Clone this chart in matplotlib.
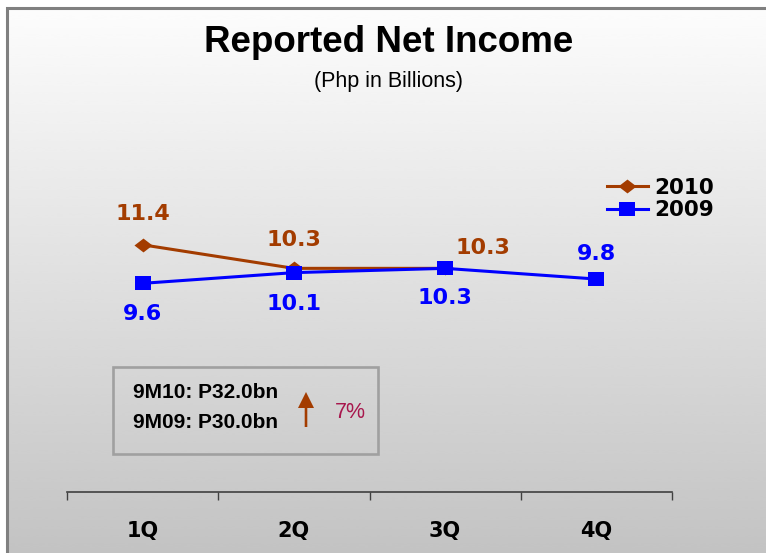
import numpy as np
import matplotlib
matplotlib.use('Agg')
import matplotlib.pyplot as plt
from matplotlib.path import Path
from matplotlib.patches import Rectangle
from matplotlib import font_manager

# chart data
quarters = ['1Q', '2Q', '3Q', '4Q']
income_2010 = [11.4, 10.3, 10.3]
income_2009 = [9.6, 10.1, 10.3, 9.8]
series_names = ['2010', '2009']
summary_lines = ['9M10: P32.0bn', '9M09: P30.0bn']
growth_label = '7%'

# label offsets (pixels) from each point
off_2010 = [(0, 31), (0, 28), (38, 20)]
off_2009 = [(0, -31), (0, -31), (0, -30), (0, 25)]

BROWN = '#A33C00'
BLUE = '#0000FF'
W, H = 766, 553

names = {f.name for f in font_manager.fontManager.ttflist}
narrow = 'Liberation Sans Narrow' in names

fig = plt.figure(figsize=(W / 100, H / 100), dpi=100)

# grey gradient panel with a frame on top and left
bg = fig.add_axes([0, 0, 1, 1], zorder=-10)
grad = np.linspace(0.99, 0.765, 256)[:, None]
bg.imshow(grad, cmap='gray', vmin=0, vmax=1, extent=(7, W, H, 8),
          aspect='auto', interpolation='bicubic')
bg.plot([6.5, 6.5, W], [H, 7.5, 7.5], color='#808080', lw=2.2,
        solid_joinstyle='miter')
bg.set_xlim(0, W)
bg.set_ylim(H, 0)
bg.axis('off')

# title
fig.text(389 / W, 1 - 52 / H, 'Reported Net Income', ha='center', va='baseline',
         fontsize=26.5, fontweight='bold', family='Liberation Sans')
if narrow:
    fig.text(388 / W, 1 - 87 / H, '(Php in Billions)', ha='center', va='baseline',
             fontsize=18.5, family='Liberation Sans Narrow')
else:
    fig.text(388 / W, 1 - 87 / H, '(Php in Billions)', ha='center', va='baseline',
             fontsize=15.5, family='Liberation Sans')

# main plot
ax = fig.add_axes([67 / W, 1 - 492 / H, (672 - 67) / W, (492 - 150) / H])
ax.patch.set_alpha(0)

sq = Path([(-1.3, -1), (1.3, -1), (1.3, 1), (-1.3, 1), (-1.3, -1)],
          [Path.MOVETO, Path.LINETO, Path.LINETO, Path.LINETO, Path.CLOSEPOLY])
dia = Path([(0, 1), (1.3, 0), (0, -1), (-1.3, 0), (0, 1)],
           [Path.MOVETO, Path.LINETO, Path.LINETO, Path.LINETO, Path.CLOSEPOLY])

x10 = np.arange(len(income_2010))
x09 = np.arange(len(income_2009))
l10, = ax.plot(x10, income_2010, color=BROWN, lw=2.2, marker=dia, ms=13,
               mew=0, label=series_names[0], zorder=3)
l09, = ax.plot(x09, income_2009, color=BLUE, lw=2.2, marker=sq, ms=12.2,
               mew=0, label=series_names[1], zorder=4)

for xi, v, (dx, dy) in zip(x10, income_2010, off_2010):
    ax.annotate(f'{v:.1f}', (xi, v), xytext=(dx, dy), textcoords='offset pixels',
                ha='center', va='center', color=BROWN, fontsize=16,
                fontweight='bold')
for xi, v, (dx, dy) in zip(x09, income_2009, off_2009):
    ax.annotate(f'{v:.1f}', (xi, v), xytext=(dx, dy), textcoords='offset pixels',
                ha='center', va='center', color=BLUE, fontsize=16,
                fontweight='bold')

ax.set_xlim(-0.5, len(quarters) - 0.5)
ax.set_ylim(-0.15, 15.83)
ax.set_xticks(np.arange(len(quarters) + 1) - 0.5)
ax.set_xticklabels([])
ax.set_xticks(np.arange(len(quarters)), minor=True)
ax.set_xticklabels(quarters, minor=True, fontsize=15, fontweight='bold')
ax.tick_params(axis='x', which='major', length=5.8, width=1, color='#404040',
               direction='out')
ax.tick_params(axis='x', which='minor', length=0, pad=21)
ax.set_yticks([])
for s in ['top', 'right', 'left']:
    ax.spines[s].set_visible(False)
ax.spines['bottom'].set_color('#404040')
ax.spines['bottom'].set_linewidth(1.2)

ax.legend(handles=[l10, l09], loc='center left',
          bbox_to_anchor=(607 / W, 1 - 199 / H), bbox_transform=fig.transFigure,
          frameon=False, borderpad=0, borderaxespad=0, handlelength=1.9,
          handletextpad=0.3, labelspacing=0.12,
          prop=dict(weight='bold', size=15.5))

# summary box
bg.add_patch(Rectangle((113, 367), 265, 87, fill=False, ec='#a0a0a0', lw=1.9))
for i, t in enumerate(summary_lines):
    bg.text(133, 398 + 30 * i, t, ha='left', va='baseline', fontsize=15,
            fontweight='bold', family='Liberation Sans')
bg.arrow(306, 427, 0, -35, width=2.6, head_width=16, head_length=16,
         length_includes_head=True, color=BROWN, lw=0)
bg.text(350, 412.5, growth_label, ha='center', va='center', fontsize=15.5,
        color='#A8174D', family='Liberation Sans')

fig.savefig('out.png', dpi=100)
